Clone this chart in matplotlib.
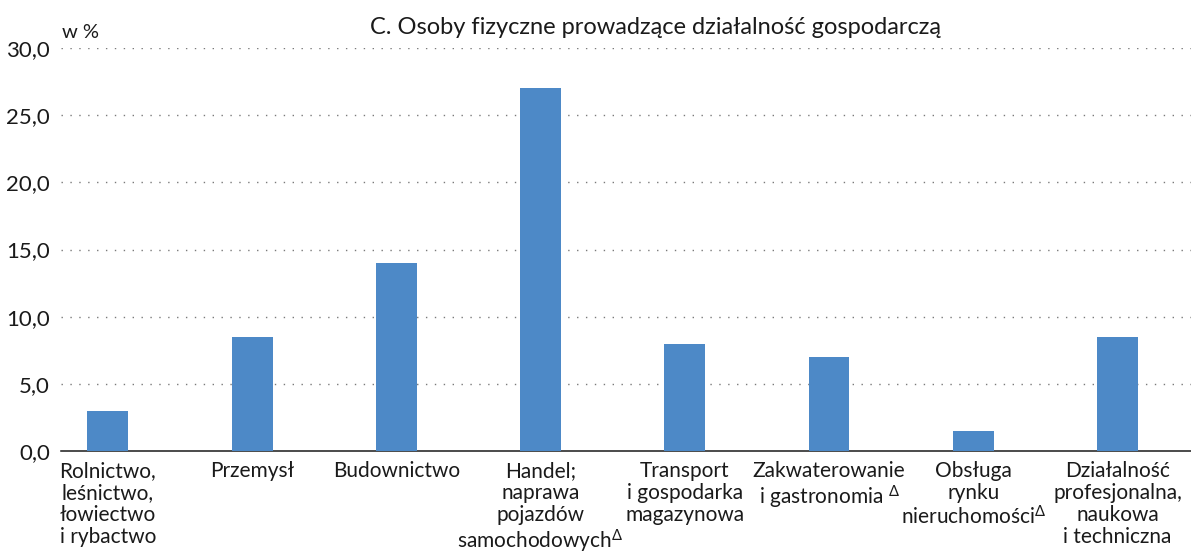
import numpy as np
import matplotlib.pyplot as plt

plt.rcParams['font.family'] = ['Lato', 'DejaVu Sans']
plt.rcParams['mathtext.fontset'] = 'custom'
plt.rcParams['mathtext.rm'] = 'Lato'
plt.rcParams['mathtext.it'] = 'Lato'
plt.rcParams['mathtext.fallback'] = 'stixsans'

# data
categories = ["Rolnictwo,\nleśnictwo,\nłowiectwo\ni rybactwo",
              "Przemysł",
              "Budownictwo",
              "Handel;\nnaprawa\npojazdów\nsamochodowych$^{Δ}$",
              "Transport\ni gospodarka\nmagazynowa",
              "Zakwaterowanie\ni gastronomia $^{Δ}$",
              "Obsługa\nrynku\nnieruchomości$^{Δ}$",
              "Działalność\nprofesjonalna,\nnaukowa\ni techniczna"]
values = [3.0, 8.5, 14.0, 27.0, 8.0, 7.0, 1.5, 8.5]
yticks = [0, 5, 10, 15, 20, 25, 30]

bar_color = "#4d89c7"

fig = plt.figure(figsize=(11.91, 5.51), dpi=100)
ax = fig.add_axes([61 / 1191, 100 / 551, 1 - 61 / 1191, 403 / 551])

x = np.arange(len(values))
ax.bar(x, values, width=0.283, color=bar_color, zorder=3)

ax.set_ylim(0, 30)
ax.set_xlim(-0.325, 7.51)
ax.set_yticks(yticks)
ax.set_yticklabels([f"{v:.1f}".replace(".", ",") for v in yticks], fontsize=16)
ax.tick_params(axis="y", length=0, pad=8, colors="#1a1a1a")
ax.tick_params(axis="x", length=0)
ax.set_xticks([])

for y in yticks[1:]:
    ax.axhline(y, color="#7a7a7a", linestyle=(0, (1, 5.4)), linewidth=1.0, zorder=1)

for s in ["top", "right", "left"]:
    ax.spines[s].set_visible(False)
ax.spines["bottom"].set_color("#1a1a1a")
ax.spines["bottom"].set_linewidth(1.1)

# category labels (multi-line, centered under each bar)
for i, lab in enumerate(categories):
    ax.text(i, -0.75, lab, ha="center", va="top", fontsize=15,
            linespacing=1.13, color="#1a1a1a", clip_on=False)

fig.text(656 / 1191, 1 - 28 / 551, "C. Osoby fizyczne prowadzące działalność gospodarczą",
         ha="center", va="center", fontsize=17, color="#1a1a1a")
fig.text(62 / 1191, 1 - 33 / 551, "w %", ha="left", va="center", fontsize=14.5,
         color="#1a1a1a")

fig.savefig("out.png", dpi=100)
